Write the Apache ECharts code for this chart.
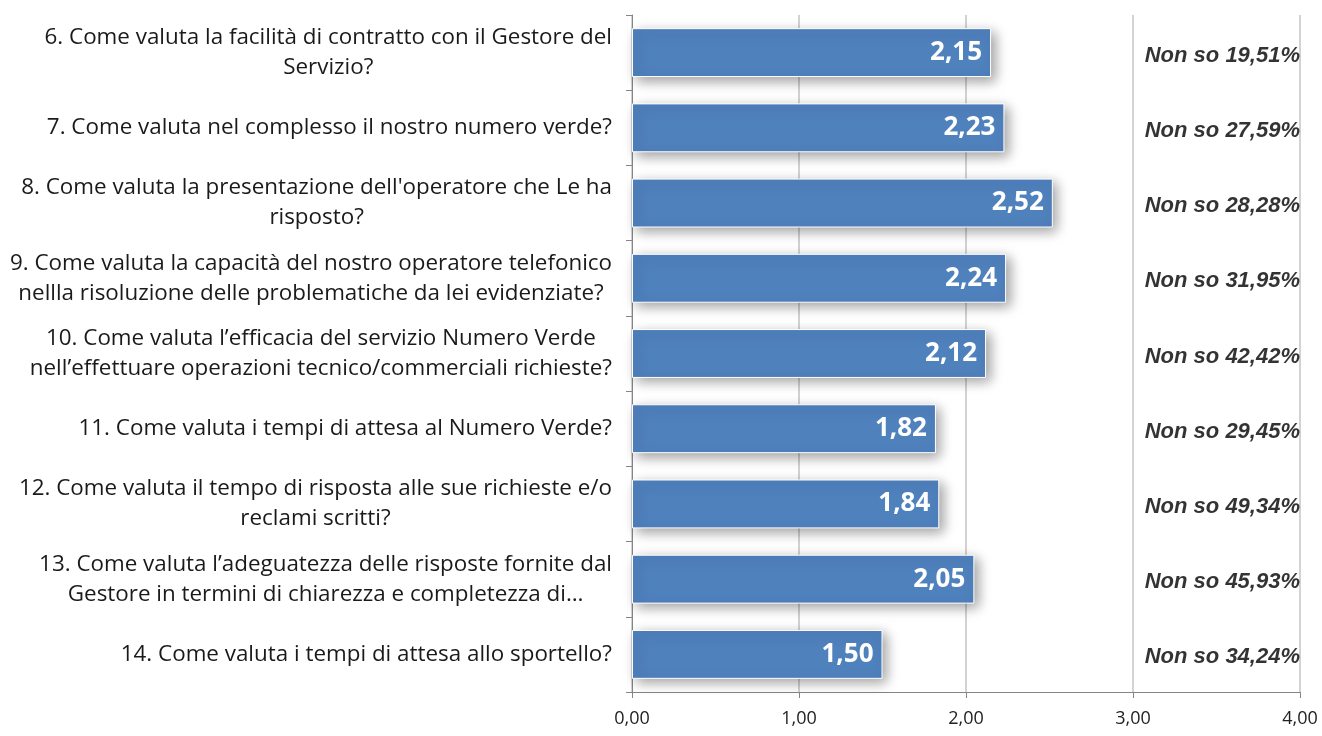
<!DOCTYPE html>
<html>
<head>
<meta charset="utf-8">
<script src="https://cdn.jsdelivr.net/npm/echarts@6/dist/echarts.min.js"></script>
<style>
html,body{margin:0;padding:0;background:#fff;}
#chart{width:1322px;height:736px;}
</style>
</head>
<body>
<div id="chart"></div>
<script>
const categories = [
  "6. Come valuta la facilità di contratto con il Gestore del\nServizio?",
  "7. Come valuta nel complesso il nostro numero verde?",
  "8. Come valuta la presentazione dell'operatore che Le ha\nrisposto?",
  "9. Come valuta la capacità del nostro operatore telefonico\nnellla risoluzione delle problematiche da lei evidenziate?",
  "10. Come valuta l’efficacia del servizio Numero Verde\nnell’effettuare operazioni tecnico/commerciali richieste?",
  "11. Come valuta i tempi di attesa al Numero Verde?",
  "12. Come valuta il tempo di risposta alle sue richieste e/o\nreclami scritti?",
  "13. Come valuta l’adeguatezza delle risposte fornite dal\nGestore in termini di chiarezza e completezza di…",
  "14. Come valuta i tempi di attesa allo sportello?"
];
const scores = [2.15, 2.23, 2.52, 2.24, 2.12, 1.82, 1.84, 2.05, 1.50];
const nonSo = [19.51, 27.59, 28.28, 31.95, 42.42, 29.45, 49.34, 45.93, 34.24];
const xTicks = [0, 1, 2, 3, 4];

const fmt = (v, d) => v.toFixed(d).replace('.', ',');

const chart = echarts.init(document.getElementById('chart'));
chart.setOption({
  animation: false,
  grid: { left: 632, right: 22, top: 15, bottom: 44, containLabel: false },
  xAxis: {
    type: 'value', min: xTicks[0], max: xTicks[xTicks.length - 1], interval: 1,
    axisLine: { show: true, lineStyle: { color: '#868686', width: 1 } },
    axisTick: { show: true, length: 6, lineStyle: { color: '#868686' } },
    axisLabel: { formatter: v => fmt(v, 2), fontFamily: 'Open Sans', fontSize: 18, color: '#222', margin: 18 },
    splitLine: { show: true, lineStyle: { color: '#c4c4c4', width: 1.5 } }
  },
  yAxis: {
    type: 'category', data: categories, inverse: true,
    axisLine: { show: true, lineStyle: { color: '#868686' } },
    axisTick: { show: true, length: 6, lineStyle: { color: '#868686' } },
    axisLabel: {
      margin: 20, fontFamily: 'Open Sans', fontSize: 22.4, color: '#1a1a1a', lineHeight: 30,
      formatter: v => v.split('\n').map(l => '{c|' + l + '}').join('\n'),
      rich: { c: { align: 'center', fontFamily: 'Open Sans', fontSize: 22.4, lineHeight: 30, color: '#1a1a1a' } }
    }
  },
  series: [
    {
      type: 'bar', data: scores, barCategoryGap: '35%',
      itemStyle: { color: '#4f81bd', borderColor: '#ffffff', borderWidth: 1,
        shadowColor: 'rgba(0,0,0,0.38)', shadowBlur: 12, shadowOffsetX: 4, shadowOffsetY: 4 },
      label: { show: true, position: 'insideRight', distance: 9, formatter: p => fmt(p.value, 2),
        color: '#fff', fontFamily: 'Open Sans', fontWeight: 'bold', fontSize: 26 }
    },
    {
      type: 'scatter', symbolSize: 0, silent: true,
      data: nonSo.map((v, i) => [xTicks[xTicks.length - 1], categories[i], v]),
      label: { show: true, position: 'left', distance: 0, offset: [0, 3],
        formatter: p => 'Non so ' + fmt(p.data[2], 2) + '%',
        color: '#000', fontFamily: 'Liberation Sans', fontStyle: 'italic', fontWeight: 'bold', fontSize: 22 }
    }
  ]
});
</script>
</body>
</html>
